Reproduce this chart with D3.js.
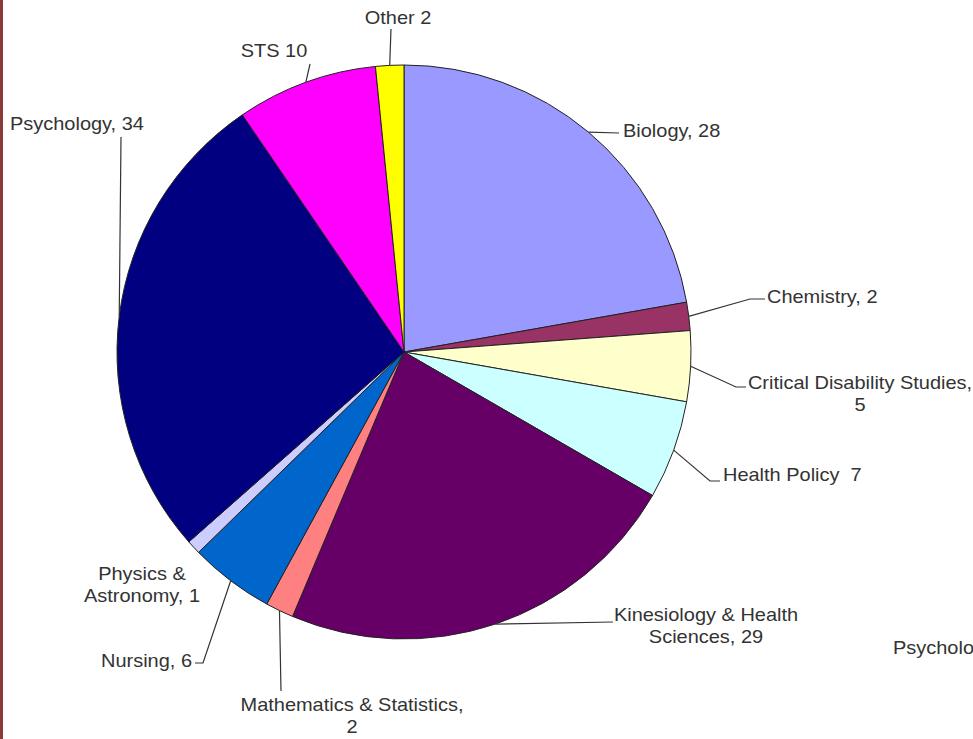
<!DOCTYPE html>
<html><head><meta charset="utf-8">
<script src="https://cdn.jsdelivr.net/npm/d3@7"></script>
<style>
html,body{margin:0;padding:0;background:#fff;}
svg{display:block;}
text{font-family:"Liberation Sans",Arial,sans-serif;fill:#333;white-space:pre;}
</style></head>
<body>
<svg id="chart" width="973" height="739"></svg>
<script>
const categories = ["Biology","Chemistry","Critical Disability Studies","Health Policy","Kinesiology & Health Sciences","Mathematics & Statistics","Nursing","Physics & Astronomy","Psychology","STS","Other"];
const values = [28,2,5,7,29,2,6,1,34,10,2];
const labelTexts = [
  ["Biology, 28"],
  ["Chemistry, 2"],
  ["Critical Disability Studies,","5"],
  ["Health Policy  7"],
  ["Kinesiology & Health","Sciences, 29"],
  ["Mathematics & Statistics,","2"],
  ["Nursing, 6"],
  ["Physics &","Astronomy, 1"],
  ["Psychology, 34"],
  ["STS 10"],
  ["Other 2"]
];
const colors = ["#9999ff","#993366","#ffffcc","#ccffff","#660066","#ff8080","#0066cc","#ccccff","#000080","#ff00ff","#ffff00"];

// layout (label anchor positions and leader bends)
const layout = [
  {x:623,y:137,anchor:"start",bend:[[619,133]]},
  {x:767,y:303,anchor:"start",bend:[[750,299],[765,299]]},
  {x:860,y:389,anchor:"middle",bend:[[736,387],[746,387]]},
  {x:723,y:481,anchor:"start",bend:[[710,481],[720,481]]},
  {x:706,y:621,anchor:"middle",bend:[[613,622]]},
  {x:352,y:711,anchor:"middle",bend:[[281,691]]},
  {x:192,y:667,anchor:"end",bend:[[203,663],[195,663]]},
  {x:142,y:580,anchor:"middle",bend:null},
  {x:10,y:130,anchor:"start",bend:[[121,137]]},
  {x:274,y:57,anchor:"middle",bend:[[310,64]]},
  {x:398,y:24,anchor:"middle",bend:[[391,29]]}
];

const svg = d3.select("#chart");
const cx = 404, cy = 352, R = 287;
const sx = 1.11, fs = 18, lh = 22;

// left border
svg.append("rect").attr("x",0).attr("y",0).attr("width",3).attr("height",739).attr("fill","#8b3a3a");

const pie = d3.pie().value(d=>d).sort(null);
const arcs = pie(values);
const arc = d3.arc().innerRadius(0).outerRadius(R);
const g = svg.append("g").attr("transform",`translate(${cx},${cy})`);
g.selectAll("path").data(arcs).join("path")
  .attr("d",arc)
  .attr("fill",(d,i)=>colors[i])
  .attr("stroke","#222")
  .attr("stroke-width",1)
  .attr("stroke-linejoin","round");

// leader lines
const line = d3.line();
arcs.forEach((a,i)=>{
  const L = layout[i];
  if(!L.bend) return;
  const m = (a.startAngle+a.endAngle)/2;
  const p0 = [cx + R*Math.sin(m), cy - R*Math.cos(m)];
  const pts = [p0].concat(L.bend);
  svg.append("path").attr("d",line(pts)).attr("fill","none").attr("stroke","#333").attr("stroke-width",1.2);
});

// labels
arcs.forEach((a,i)=>{
  const L = layout[i];
  const t = svg.append("text")
    .attr("transform",`translate(${L.x},${L.y}) scale(${sx},1)`)
    .attr("text-anchor",L.anchor).attr("font-size",fs);
  labelTexts[i].forEach((s,j)=>{
    t.append("tspan").attr("x",0).attr("dy",j===0?0:lh).text(s);
  });
});

// partially visible legend text from neighbouring chart
svg.append("text").attr("transform","translate(893,654) scale(1.11,1)").attr("font-size",fs).text("Psycholo");
</script>
</body></html>
